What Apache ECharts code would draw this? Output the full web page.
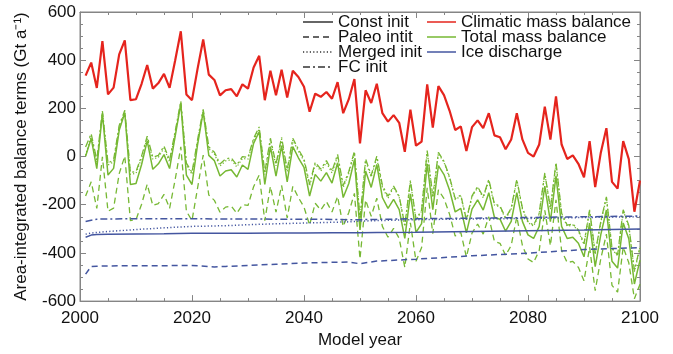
<!DOCTYPE html>
<html>
<head>
<meta charset="utf-8">
<script src="https://cdn.jsdelivr.net/npm/echarts@6/dist/echarts.min.js"></script>
<style>
  html, body { margin: 0; padding: 0; background: #fff; }
  #chart { width: 673px; height: 354px; }
</style>
</head>
<body>
<div id="chart"></div>
<script>
// Model years 2001–2100 (annual values)
const years = Array.from({ length: 100 }, (_, i) => 2001 + i);

// Climatic mass balance (Gt/a)
const climaticMB = [
  336, 390, 285, 479, 258, 286, 424, 482, 234, 238,
  302, 380, 282, 305, 343, 285, 400, 520, 258, 234,
  365, 486, 340, 318, 254, 275, 280, 250, 300, 282,
  370, 418, 234, 356, 254, 360, 245, 356, 330, 290,
  186, 261, 248, 268, 240, 309, 180, 238, 322, 55,
  275, 222, 302, 180, 145, 172, 140, 20, 195, 45,
  62, 300, 120, 292, 255, 190, 110, 125, 23, 122,
  150, 118, 180, 88, 80, 30, 71, 180, 71, 15,
  0, 50, 207, 70, 250, 50, -10, 5, -30, -86,
  64, -127, 16, 118, -105, -133, 64, -11, -229, -100
];

// Total mass balance for each initialisation (Gt/a)
const totalConst = [
  1, 75, -50, 179, -77, -49, 109, 182, -116, -112,
  -33, 65, -53, -30, 8, -50, 85, 220, -77, -116,
  50, 186, 5, -17, -81, -60, -55, -85, -35, -53,
  55, 103, -116, 41, -81, 45, -105, 41, -5, -45,
  -164, -74, -102, -67, -110, -26, -170, -112, -13, -305,
  -60, -128, -33, -170, -215, -178, -220, -340, -155, -315,
  -278, -30, -220, -38, -75, -140, -230, -215, -317, -218,
  -180, -222, -150, -252, -260, -310, -269, -150, -269, -325,
  -340, -290, -123, -270, -80, -290, -340, -335, -360, -416,
  -276, -457, -324, -222, -435, -463, -276, -341, -529, -430
];
const totalPaleo = [
  -164, -105, -215, -1, -227, -214, -71, 2, -266, -262,
  -198, -115, -203, -195, -157, -215, -95, 40, -227, -266,
  -130, 6, -160, -182, -231, -210, -205, -235, -200, -203,
  -125, -77, -266, -124, -231, -120, -255, -124, -170, -210,
  -284, -194, -222, -187, -230, -166, -290, -232, -153, -425,
  -180, -248, -173, -290, -335, -298, -340, -460, -275, -435,
  -378, -130, -320, -138, -175, -240, -330, -315, -417, -318,
  -280, -322, -250, -352, -360, -410, -369, -250, -369, -425,
  -440, -390, -223, -370, -180, -390, -440, -435, -460, -516,
  -376, -557, -424, -322, -535, -563, -376, -441, -590, -530
];
const totalMerged = [
  5, 87, -23, 181, -35, -22, 121, 184, -74, -70,
  -6, 77, -11, -3, 35, -23, 97, 222, -35, -74,
  62, 188, 32, 10, -39, -18, -13, -43, -8, -11,
  67, 115, -74, 68, -39, 72, -63, 68, 22, -18,
  -122, -32, -60, -25, -68, 1, -128, -70, 14, -263,
  -18, -86, -6, -128, -173, -127, -169, -289, -104, -264,
  -227, 21, -169, 13, -24, -89, -179, -164, -266, -167,
  -129, -171, -99, -201, -209, -259, -218, -99, -218, -274,
  -289, -239, -72, -219, -29, -239, -289, -284, -309, -365,
  -225, -406, -273, -171, -384, -412, -225, -290, -478, -379
];
const totalFC = [
  40, 95, -15, 189, -27, -14, 129, 192, -66, -62,
  2, 85, -3, 5, 43, -15, 105, 230, -27, -66,
  70, 196, 40, 18, -31, -10, -5, -35, 0, -3,
  75, 123, -66, 76, -31, 80, -55, 76, 30, -10,
  -114, -24, -52, -17, -60, 9, -120, -62, 22, -255,
  -10, -78, 2, -120, -165, -123, -165, -285, -100, -260,
  -223, 25, -165, 17, -20, -85, -175, -160, -262, -163,
  -125, -167, -95, -197, -205, -255, -214, -95, -214, -270,
  -285, -235, -68, -215, -25, -235, -285, -280, -305, -361,
  -221, -402, -269, -167, -380, -408, -221, -286, -474, -375
];

// Ice discharge (Gt/a), sampled at these years
const dischargeYears = [2001, 2002, 2003, 2005, 2010, 2015, 2020, 2024, 2026, 2030, 2035,
                        2040, 2045, 2048, 2050, 2053, 2060, 2070, 2080, 2090, 2100];
const dischargeConst  = [-335, -326, -324, -323, -321, -320, -318, -318, -318, -318, -317,
                         -317, -316, -316, -316, -315, -314, -311, -308, -305, -301];
const dischargePaleo  = [-488, -456, -455, -454, -453, -453, -452, -458, -456, -452, -447,
                         -442, -439, -438, -445, -434, -426, -412, -401, -386, -378];
const dischargeMerged = [-322, -318, -315, -311, -303, -296, -290, -288, -287, -283, -279,
                         -276, -273, -271, -268, -266, -262, -259, -257, -253, -250];
const dischargeFC     = [-270, -264, -260, -259, -258, -258, -258, -259, -259, -259, -260,
                         -260, -261, -262, -262, -261, -258, -256, -253, -250, -247];

const xTicks = [2000, 2020, 2040, 2060, 2080, 2100];
const yTicks = [-600, -400, -200, 0, 200, 400, 600];

const RED = '#e5241d';
const GREEN = '#76b833';
const BLUE = '#4456a0';
const FRAME = '#858585';
const FONT = '"Liberation Sans", Arial, sans-serif';

const styles = {
  solid: 'solid',
  dashed: [6, 4],
  dotted: [1.2, 2.2],
  dashdot: [7, 3, 2, 3]
};

const pair = (xs, ys) => xs.map((x, i) => [x, ys[i]]);

function line(name, xs, ys, color, type, width, z) {
  return {
    name, type: 'line', data: pair(xs, ys), showSymbol: false, symbol: 'none',
    lineStyle: { color, type, width }, z, animation: false, silent: true
  };
}

const chart = echarts.init(document.getElementById('chart'), null, { renderer: 'canvas' });

const axisCommon = {
  axisLine: { show: true, onZero: false, lineStyle: { color: FRAME, width: 1 } },
  axisTick: { show: true, inside: true, length: 6, lineStyle: { color: FRAME } },
  minorTick: { show: true, length: 3, lineStyle: { color: FRAME } },
  splitLine: { show: false }
};

const legendRows = [
  { label: 'Const init', dash: styles.solid },
  { label: 'Paleo intit', dash: styles.dashed },
  { label: 'Merged init', dash: styles.dotted },
  { label: 'FC init', dash: styles.dashdot }
];
const legendTerms = [
  { label: 'Climatic mass balance', color: RED },
  { label: 'Total mass balance', color: GREEN },
  { label: 'Ice discharge', color: BLUE }
];

const graphics = [];
legendRows.forEach((r, i) => {
  const y = 22 + i * 15;
  graphics.push({ type: 'line', shape: { x1: 303, y1: y, x2: 333, y2: y },
    style: { stroke: '#333', lineWidth: 1.5, lineDash: r.dash === 'solid' ? null : r.dash }, z: 100 });
  graphics.push({ type: 'text', x: 338, y: y, style: { text: r.label, font: '17px ' + FONT, fill: '#111', textVerticalAlign: 'middle' }, z: 100 });
});
legendTerms.forEach((t, i) => {
  const y = 22 + i * 15;
  graphics.push({ type: 'line', shape: { x1: 427, y1: y, x2: 456, y2: y },
    style: { stroke: t.color, lineWidth: 1.5 }, z: 100 });
  graphics.push({ type: 'text', x: 461, y: y, style: { text: t.label, font: '17px ' + FONT, fill: '#111', textVerticalAlign: 'middle' }, z: 100 });
});

chart.setOption({
  animation: false,
  backgroundColor: '#fff',
  grid: { left: 80, right: 33, top: 12, bottom: 48, show: true, borderColor: FRAME, borderWidth: 1 },
  xAxis: [
    Object.assign({}, axisCommon, {
      type: 'value', min: xTicks[0], max: xTicks[xTicks.length - 1], interval: 20,
      minorTick: Object.assign({}, axisCommon.minorTick, { splitNumber: 4 }),
      name: 'Model year', nameLocation: 'middle', nameGap: 27,
      nameTextStyle: { fontFamily: FONT, fontSize: 17, color: '#111' },
      axisLabel: { fontFamily: FONT, fontSize: 17, color: '#111', margin: 9, formatter: v => String(v) }
    }),
    Object.assign({}, axisCommon, {
      type: 'value', position: 'top', min: xTicks[0], max: xTicks[xTicks.length - 1], interval: 20,
      minorTick: Object.assign({}, axisCommon.minorTick, { splitNumber: 4 }),
      axisLabel: { show: false }
    })
  ],
  yAxis: [
    Object.assign({}, axisCommon, {
      type: 'value', min: yTicks[0], max: yTicks[yTicks.length - 1], interval: 200,
      minorTick: Object.assign({}, axisCommon.minorTick, { splitNumber: 4 }),
      name: 'Area-integrated balance terms (Gt a\u207B\u00B9)', nameLocation: 'middle', nameGap: 50,
      nameTextStyle: { fontFamily: FONT, fontSize: 17, color: '#111' },
      axisLabel: { fontFamily: FONT, fontSize: 17, color: '#111', margin: 4, formatter: v => String(v) }
    }),
    Object.assign({}, axisCommon, {
      type: 'value', position: 'right', min: yTicks[0], max: yTicks[yTicks.length - 1], interval: 200,
      minorTick: Object.assign({}, axisCommon.minorTick, { splitNumber: 4 }),
      axisLabel: { show: false }
    })
  ],
  graphic: graphics,
  series: [
    line('Total mass balance – Paleo', years, totalPaleo, GREEN, styles.dashed, 1.3, 2),
    line('Total mass balance – Merged', years, totalMerged, GREEN, styles.dotted, 1.3, 2),
    line('Total mass balance – FC', years, totalFC, GREEN, styles.dashdot, 1.3, 2),
    line('Total mass balance – Const', years, totalConst, GREEN, 'solid', 1.5, 3),
    line('Ice discharge – Const', dischargeYears, dischargeConst, BLUE, 'solid', 1.5, 4),
    line('Ice discharge – Paleo', dischargeYears, dischargePaleo, BLUE, styles.dashed, 1.5, 4),
    line('Ice discharge – Merged', dischargeYears, dischargeMerged, BLUE, styles.dotted, 1.5, 4),
    line('Ice discharge – FC', dischargeYears, dischargeFC, BLUE, styles.dashdot, 1.5, 4),
    line('Climatic mass balance – Const', years, climaticMB, RED, 'solid', 2.2, 5)
  ]
});
</script>
</body>
</html>
